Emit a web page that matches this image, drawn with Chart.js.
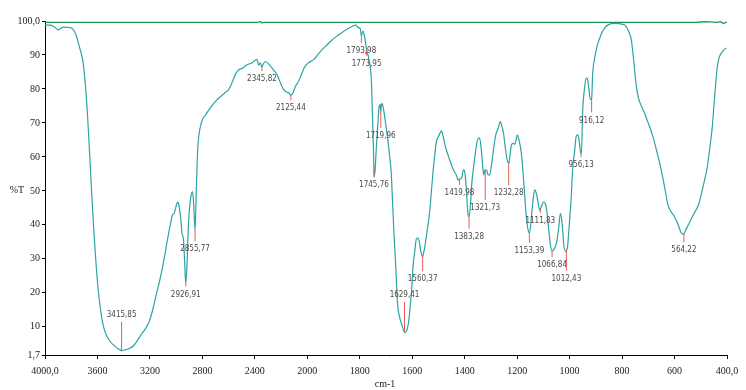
<!DOCTYPE html>
<html>
<head>
<meta charset="utf-8">
<script src="https://cdn.jsdelivr.net/npm/chart.js@4.4.1/dist/chart.umd.min.js"></script>
<style>
html,body{margin:0;padding:0;background:#fff;}
#wrap{width:746px;height:390px;position:relative;}
</style>
</head>
<body>
<div id="wrap"><canvas id="c" width="746" height="390"></canvas></div>
<script>
// ---------- DATA ----------
const wn = [4000,3960,3930,3898,3880,3860,3830,3800,3780,3760,3745,3725,3711,3698,3686,3676,3668,3655,3642,3630,3617,3600,3584,3568,3553,3530,3502,3470,3441,3416,3390,3360,3323,3290,3260,3230,3208,3180,3150,3125,3106,3085,3060,3040,3029,3015,3005,2995,2985,2975,2965,2955,2945,2935,2927,2918,2905,2890,2875,2866,2856,2846,2835,2820,2800,2775,2750,2720,2690,2660,2630,2600,2580,2560,2544,2520,2490,2467,2440,2420,2400,2385,2370,2358,2346,2335,2320,2301,2280,2260,2240,2225,2200,2180,2160,2140,2125,2110,2090,2072,2050,2030,2010,1995,1975,1960,1947,1930,1910,1890,1870,1850,1832,1815,1805,1798,1794,1788,1782,1774,1765,1756,1752,1748,1745,1741,1737,1731,1726,1722,1720,1717,1713,1708,1700,1693,1686,1680,1674,1669,1663,1656,1648,1642,1634,1628,1620,1612,1608,1602,1597,1590,1584,1578,1573,1568,1561,1556,1552,1542,1533,1526,1520,1514,1508,1500,1494,1489,1482,1475,1468,1457,1448,1440,1432,1425,1420,1412,1405,1400,1394,1387,1383,1378,1374,1366,1360,1355,1348,1343,1336,1330,1327,1322,1317,1311,1305,1298,1292,1285,1280,1272,1264,1258,1252,1245,1238,1232,1227,1222,1215,1209,1204,1200,1193,1184,1175,1165,1158,1153,1145,1138,1133,1127,1121,1114,1108,1099,1093,1088,1080,1073,1067,1060,1050,1042,1035,1028,1022,1015,1008,1000,994,988,981,975,968,963,958,955,950,943,937,932,927,921,916,912,906,895,880,866,850,830,810,790,775,765,756,748,739,730,714,698,682,666,651,638,625,615,600,588,574,566,558,545,530,507,490,475,465,456,450,444,437,430,420,410,402];
const tr = [98.8,98.8,98.3,97.4,97.8,98.2,98.1,98.0,97.2,95.5,93.4,90.6,88.2,83.8,78.3,72.4,67,57.6,47.8,39.9,32,23.2,17.3,12.8,9.9,7.4,5.6,4.4,3.5,3.0,3.2,3.6,4.5,6.3,8.1,9.7,11.3,14.8,19.7,23.7,27.1,31.5,37,40.9,42.9,43.4,44.8,46.3,46.6,44.8,41.9,37.4,36,29,22.7,28,40.9,47.8,49.8,45.8,38.4,50.8,62.6,68,71,72.4,73.9,75.4,76.8,77.8,78.8,79.8,81.3,83.2,84.6,85.7,86.2,87,87.4,87.7,88.4,88.7,87,87.7,86.4,87.4,88,87.6,86.7,85.7,84.7,83.7,81.3,79.8,79.1,78.8,78.1,78.8,80.8,81.9,83.7,85.7,87,87.7,88.7,90.1,91.3,92.6,94.1,95.4,96.5,97.5,98.3,98.8,98,97.8,95.6,97,95.6,91.6,88.7,82.8,73.4,62.6,54.2,56.7,62.6,69.5,74.9,75.4,73.2,75.7,75.4,73.4,69,65,60.1,55.2,44.8,36.5,28.1,16.8,12.8,11.2,9.3,8.3,9.0,12.6,15.9,21.2,27.6,32.5,35.9,36.1,35,32.5,30.6,32,33.6,38.9,44.3,50.7,56.2,60.6,64.5,66,67,67.7,66,63.5,61.6,59.1,57.1,55.7,54.7,53.2,53.5,53.7,56.2,55.7,50.7,42.9,42.4,45.8,51.2,57.1,60.6,63.5,65.5,65.5,61.6,56.2,54.7,56.2,56.2,54.7,54.7,57.6,61.1,65,66.9,68.5,70.4,69,66.9,62.6,59.1,58.1,60.6,63.5,64,63.7,65,66.4,65,61.1,52.7,42.4,38.4,37.6,42.9,48.3,50.3,49.3,47,44.3,45.3,46.8,46.3,44.8,38.9,34,32.3,32.8,34.6,38.9,43.4,39.9,34,32.2,33.5,41.4,47.8,57.1,61.6,66,66.5,64.5,61.1,61.1,73.8,80.3,83.2,82.9,80.3,76.9,77.2,84.6,88.5,92.6,96,98,99,99.3,99.2,98.8,97,94.5,88.7,82.3,77.8,75.6,72.8,69.5,65.9,61.1,56.2,51.2,45.8,44.1,42.4,40.4,37.6,37.3,38.4,40.4,42.7,46.3,51.7,57.1,63,68.9,74.9,80.7,86.5,89.2,90.7,91.6,92.1];

const baseWn = [4000,3500,3000,2500,2380,2360,2345,2330,2000,1500,1000,700,520,500,480,440,425,415,405,400];
const baseTr = [99.6,99.6,99.6,99.6,99.6,99.8,99.5,99.6,99.6,99.6,99.6,99.6,99.6,99.7,99.8,99.6,99.8,99.3,99.5,99.7];

const peakWn = [3415.85,2926.91,2855.77,2345.82,2125.44,1793.98,1773.95,1745.76,1719.96,1629.41,1560.37,1419.98,1383.28,1321.73,1232.28,1153.39,1111.83,1066.84,1012.43,956.13,916.12,564.22];
const peakLabels = ["3415,85","2926,91","2855,77","2345,82","2125,44","1793,98","1773,95","1745,76","1719,96","1629,41","1560,37","1419,98","1383,28","1321,73","1232,28","1153,39","1111,83","1066,84","1012,43","956,13","916,12","564,22"];

const xTickVals = [4000,3600,3200,2800,2400,2000,1800,1600,1400,1200,1000,800,600,400];
const xTickLabels = ["4000,0","3600","3200","2800","2400","2000","1800","1600","1400","1200","1000","800","600","400,0"];
const yTickVals = [1.7,10,20,30,40,50,60,70,80,90,100];
const yTickLabels = ["1,7","10","20","30","40","50","60","70","80","90","100,0"];

// ---------- STYLE (marker lengths in px; negative = upward) ----------
const markLen = [-29,3,12,4,5,7,6,8,16,-30,15,6,12,30,22,10,4,6,21,4,14,9];

// ---------- Break scale: 4000-2000 compressed by factor 2 ----------
const BREAK = 2000;
function fwd(w){ return w > BREAK ? BREAK + (w - BREAK) / 2 : w; }
function inv(u){ return u > BREAK ? BREAK + (u - BREAK) * 2 : u; }
class BreakScale extends Chart.LinearScale {
  getPixelForValue(v){
    const a = fwd(this.min), b = fwd(this.max);
    return this.getPixelForDecimal((fwd(v) - a) / (b - a));
  }
  getValueForPixel(p){
    const a = fwd(this.min), b = fwd(this.max);
    return inv(a + this.getDecimalForPixel(p) * (b - a));
  }
}
BreakScale.id = 'breakLinear';
BreakScale.defaults = Chart.LinearScale.defaults;
Chart.register(BreakScale);

function interp(w){
  for (let i = 0; i < wn.length - 1; i++){
    if (wn[i] >= w && w >= wn[i+1]){
      const t = (wn[i] - w) / (wn[i] - wn[i+1]);
      return tr[i] + t * (tr[i+1] - tr[i]);
    }
  }
  return tr[tr.length-1];
}

const peakPlugin = {
  id: 'peaks',
  afterDatasetsDraw(chart){
    const ctx = chart.ctx, xs = chart.scales.x, ys = chart.scales.y;
    ctx.save();
    ctx.lineWidth = 1;
    ctx.strokeStyle = '#ec5a50';
    ctx.fillStyle = '#4a4a4a';
    ctx.font = '8px "Liberation Sans Narrow", "DejaVu Sans Condensed", "Liberation Sans", sans-serif';
    ctx.textAlign = 'center';
    ctx.textBaseline = 'middle';
    peakWn.forEach((w, i) => {
      const x = xs.getPixelForValue(w);
      const y = ys.getPixelForValue(interp(w));
      const end = y + markLen[i];
      ctx.beginPath();
      ctx.moveTo(x, y);
      ctx.lineTo(x, end);
      ctx.stroke();
      const ly = markLen[i] < 0 ? end - 7 : end + 8;
      ctx.fillText(peakLabels[i], x, ly);
    });
    ctx.restore();
  }
};

const titlePlugin = {
  id: 'titles',
  afterDraw(chart){
    const ctx = chart.ctx;
    ctx.save();
    ctx.fillStyle = '#222';
    ctx.font = '10px "Liberation Serif", serif';
    ctx.textAlign = 'center';
    ctx.textBaseline = 'middle';
    ctx.fillText('%T', 17, 190);
    ctx.fillText('cm-1', 385, 384);
    ctx.restore();
  }
};

new Chart(document.getElementById('c'), {
  type: 'line',
  data: {
    datasets: [
      {
        data: baseWn.map((w, i) => ({x: w, y: baseTr[i]})),
        borderColor: '#1a9a52',
        borderWidth: 1.3,
        pointRadius: 0,
        tension: 0
      },
      {
        data: wn.map((w, i) => ({x: w, y: tr[i]})),
        borderColor: '#2ba3a3',
        borderWidth: 1.2,
        pointRadius: 0,
        cubicInterpolationMode: 'monotone'
      }
    ]
  },
  options: {
    responsive: false,
    animation: false,
    events: [],
    layout: { padding: { top: 21, right: 19, left: 0, bottom: 0 } },
    plugins: { legend: { display: false }, tooltip: { enabled: false } },
    scales: {
      x: {
        type: 'breakLinear',
        min: 400, max: 4000, reverse: true,
        afterBuildTicks: s => { s.ticks = xTickVals.map(v => ({value: v})); },
        afterFit: s => { s.height = 35; },
        ticks: {
          autoSkip: false, maxRotation: 0, padding: 6,
          font: { family: '"Liberation Serif", serif', size: 10 }, color: '#222',
          callback: (v) => { const k = xTickVals.indexOf(v); return k >= 0 ? xTickLabels[k] : ''; }
        },
        grid: { drawOnChartArea: false, color: '#000', tickLength: 4 },
        border: { color: '#000', width: 1 }
      },
      y: {
        type: 'linear',
        min: 1.7, max: 100,
        afterBuildTicks: s => { s.ticks = yTickVals.map(v => ({value: v})); },
        afterFit: s => { s.width = 45; },
        ticks: {
          autoSkip: false, padding: 2,
          font: { family: '"Liberation Serif", serif', size: 10 }, color: '#222',
          callback: (v) => { const k = yTickVals.indexOf(v); return k >= 0 ? yTickLabels[k] : ''; }
        },
        grid: { drawOnChartArea: false, color: '#000', tickLength: 3 },
        border: { color: '#000', width: 1 }
      }
    }
  },
  plugins: [peakPlugin, titlePlugin]
});
</script>
</body>
</html>
